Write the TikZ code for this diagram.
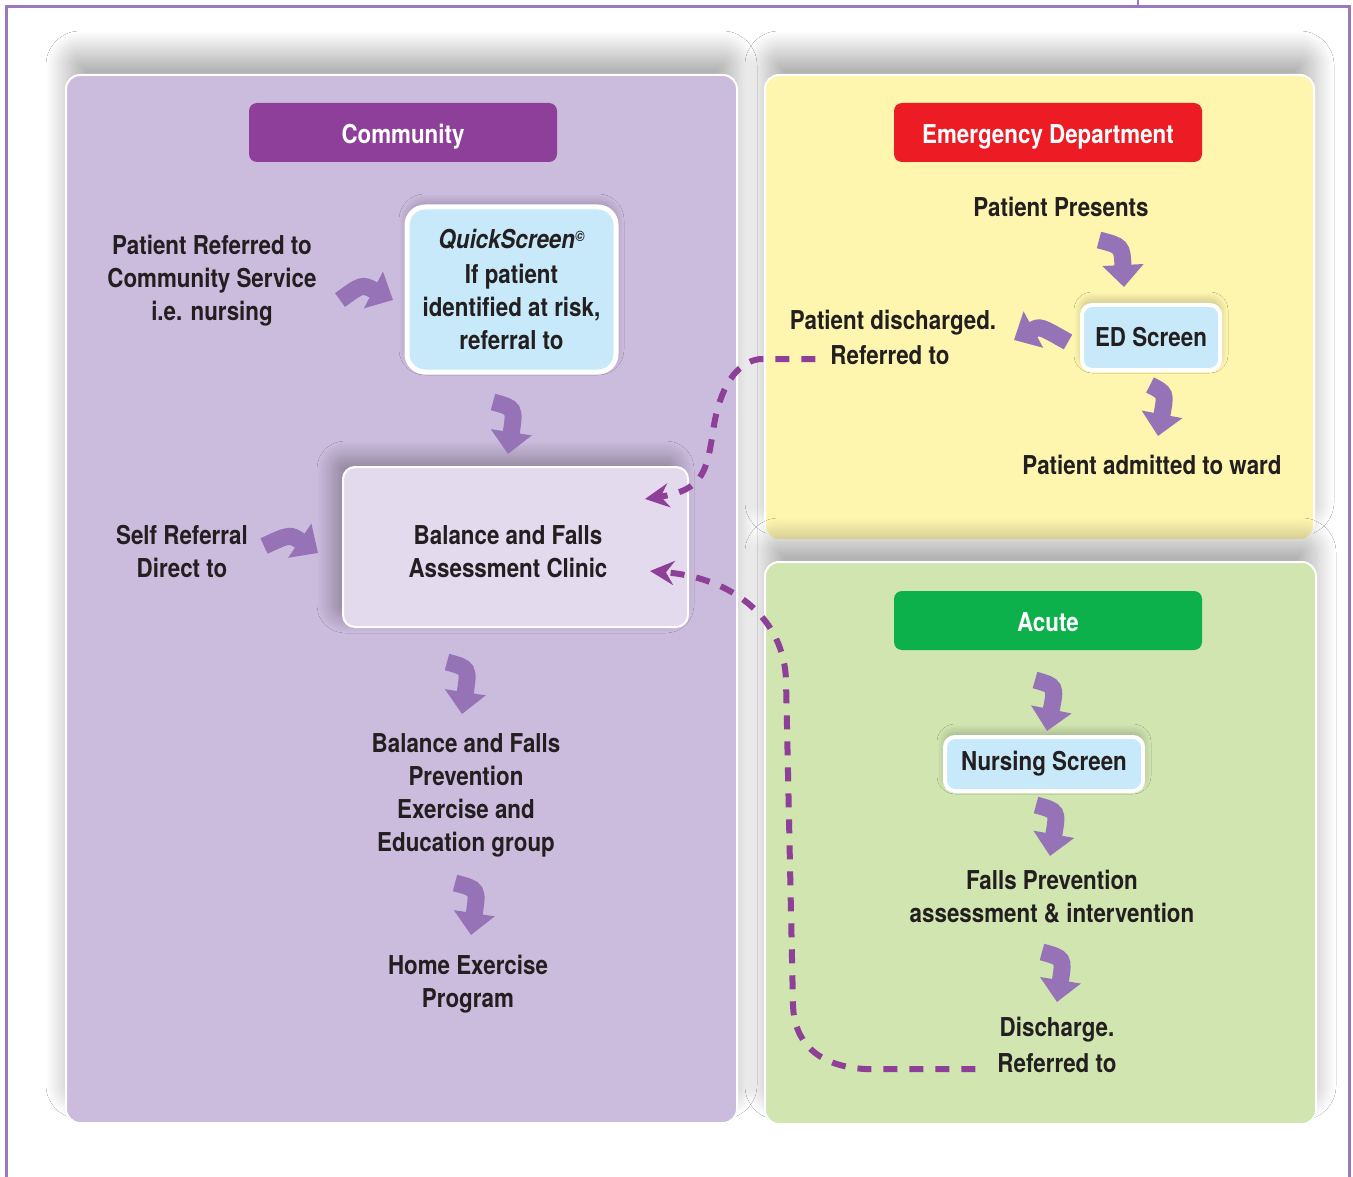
\documentclass[tikz,border=0pt]{standalone}
\usepackage{fontspec}
\setmainfont{TeX Gyre Heros}[FakeStretch=0.86]
\usetikzlibrary{arrows.meta,shadows.blur}
\definecolor{commfill}{HTML}{CBBBDD}
\definecolor{commhead}{HTML}{8E3F9A}
\definecolor{edfill}{HTML}{FEF6AF}
\definecolor{edhead}{HTML}{ED1C24}
\definecolor{acfill}{HTML}{D0E5B0}
\definecolor{achead}{HTML}{0DB14B}
\definecolor{scrfill}{HTML}{C7E9F9}
\definecolor{clinfill}{HTML}{E3DAEE}
\definecolor{arrowc}{HTML}{9672B7}
\definecolor{dashc}{HTML}{8E3F98}
\definecolor{framec}{HTML}{9A78BE}
\definecolor{txt}{HTML}{231F20}
\begin{document}
\begin{tikzpicture}[x=1pt,y=-1pt,
  every node/.style={inner sep=0pt, outer sep=0pt},
  panel/.style={draw=white, line width=2pt, rounded corners=14pt,
    blur shadow={shadow xshift=0pt, shadow yshift=24pt, shadow blur radius=20pt, shadow blur steps=30, shadow opacity=30}},
  header/.style={rounded corners=8pt, minimum width=308pt, minimum height=59pt,
    text height=22pt, text depth=0pt,
    text=white, font=\bfseries\fontsize{26}{30}\selectfont},
  scrbox/.style={fill=scrfill, draw=white, rounded corners=10pt, text=txt, align=center,
    font=\bfseries\fontsize{26}{33}\selectfont,
    blur shadow={shadow xshift=0pt, shadow yshift=5pt, shadow blur radius=8pt, shadow blur steps=16, shadow opacity=22}},
  lbl/.style={text=txt, align=center, font=\bfseries\fontsize{26}{33}\selectfont},
  blockarrow/.style={draw=arrowc, line width=17pt, -{Triangle[length=22pt,width=40pt]}},
  dashline/.style={draw=dashc, line width=6pt, dash pattern=on 14pt off 12pt,
    -{Stealth[length=24pt,width=24pt,inset=8pt]}}
]
\useasboundingbox (0,0) rectangle (1353,1177);
\fill[white] (0,0) rectangle (1353,1177);

% frame
\draw[framec, line width=3pt] (6,1177) -- (6,7) -- (1349,7) -- (1349,1177);
\draw[framec, line width=2pt] (1138,0) -- (1138,7);

% panels
\node[panel, fill=commfill, minimum width=671pt, minimum height=1048pt] (commpanel) at (401.5,599) {};
\node[panel, fill=edfill, minimum width=549pt, minimum height=465pt] (edpanel) at (1039.5,307.5) {};
\node[panel, fill=acfill, minimum width=551pt, minimum height=562pt] (acpanel) at (1040.5,843) {};

% headers
\node[header, fill=commhead] (commh) at (403,132.5) {Community};
\node[header, fill=edhead] (edh) at (1048,132.5) {Emergency Department};
\node[header, fill=achead] (ach) at (1048,620.5) {Acute};

% community
\node[scrbox, line width=5pt, rounded corners=18pt, minimum width=209pt, minimum height=165pt] (quick) at (511.5,289.5)
  {{\itshape QuickScreen\raisebox{7pt}{\fontsize{15}{15}\selectfont ©}}\\[2pt] If patient\\ identified at risk,\\ referral to};
\node[lbl] (referred) at (212,281) {Patient Referred to\\ Community Service\\ i.e. nursing};
\node[draw=white, line width=2pt, fill=clinfill, rounded corners=12pt, minimum width=345pt, minimum height=160pt,
  blur shadow={shadow xshift=-10pt, shadow yshift=10pt, shadow blur radius=16pt, shadow blur steps=24, shadow opacity=30}] (clinicbox) at (515.5,547) {};
\node[lbl] (clinic) at (508,552) {Balance and Falls\\ Assessment Clinic};
\node[lbl] (self) at (182,551) {Self Referral\\ Direct to};
\node[lbl] (group) at (466,795) {Balance and Falls\\ Prevention\\ Exercise and\\ Education group};
\node[lbl] (home) at (468,984) {Home Exercise\\ Program};

% ED
\node[lbl] (presents) at (1061,207) {Patient Presents};
\node[scrbox, line width=4pt, minimum width=138pt, minimum height=65pt] (edscreen) at (1151,337.5) {ED Screen};
\node[lbl] (disch) at (893,323) {Patient discharged.};
\node[lbl] (edref) at (890,355) {Referred to};
\node[lbl] (admit) at (1152,465) {Patient admitted to ward};

% Acute
\node[scrbox, line width=4pt, minimum width=198pt, minimum height=54pt] (nursing) at (1044,764) {Nursing Screen};
\node[lbl] (fallsprev) at (1052,897) {Falls Prevention\\ assessment \& intervention};
\node[lbl] (discharge) at (1057,1030) {Discharge.};
\node[lbl] (acref) at (1057,1063) {Referred to};

% block arrows
\coordinate (a1s) at (340,300); \coordinate (a1e) at (393,300);
\draw[blockarrow] (a1s) .. controls (362,284) .. (a1e);
\coordinate (a2s) at (493,402); \coordinate (a2e) at (508,454);
\draw[blockarrow] (a2s) .. controls (515,408) .. (a2e);
\coordinate (a3s) at (264,546); \coordinate (a3e) at (318,553);
\draw[blockarrow] (a3s) .. controls (290,534) .. (a3e);
\coordinate (a4s) at (447,662); \coordinate (a4e) at (462,714);
\draw[blockarrow] (a4s) .. controls (469,668) .. (a4e);
\coordinate (a5s) at (455,883); \coordinate (a5e) at (471,935);
\draw[blockarrow] (a5s) .. controls (478,889) .. (a5e);
\coordinate (a6s) at (1099,240); \coordinate (a6e) at (1124,287);
\draw[blockarrow] (a6s) .. controls (1122,246) .. (a6e);
\coordinate (a7s) at (1068,342); \coordinate (a7e) at (1014,340);
\draw[blockarrow] (a7s) .. controls (1040,326) .. (a7e);
\coordinate (a8s) at (1150,385); \coordinate (a8e) at (1158,436);
\draw[blockarrow] (a8s) .. controls (1166,393) .. (a8e);
\coordinate (a9s) at (1035,680); \coordinate (a9e) at (1047,731);
\draw[blockarrow] (a9s) .. controls (1056,686) .. (a9e);
\coordinate (a10s) at (1036,805); \coordinate (a10e) at (1050,856);
\draw[blockarrow] (a10s) .. controls (1058,811) .. (a10e);
\coordinate (a11s) at (1042,952); \coordinate (a11e) at (1057,1002);
\draw[blockarrow] (a11s) .. controls (1064,958) .. (a11e);

% dashed connectors
\coordinate (d1e) at (645,499);
\draw[dashline] ([xshift=-15pt,yshift=-4pt]edref.west) -- (760,359) .. controls (735,362) and (720,390) .. (714,425)
  .. controls (707,470) and (705,490) .. (d1e);
\coordinate (d2e) at (650,571);
\draw[dashline] ([xshift=-22pt,yshift=-6pt]acref.west) -- (865,1069) .. controls (815,1066) and (794,1040) .. (793,1005)
  -- (786,680) .. controls (784,620) and (735,578) .. (d2e);
\end{tikzpicture}
\end{document}
